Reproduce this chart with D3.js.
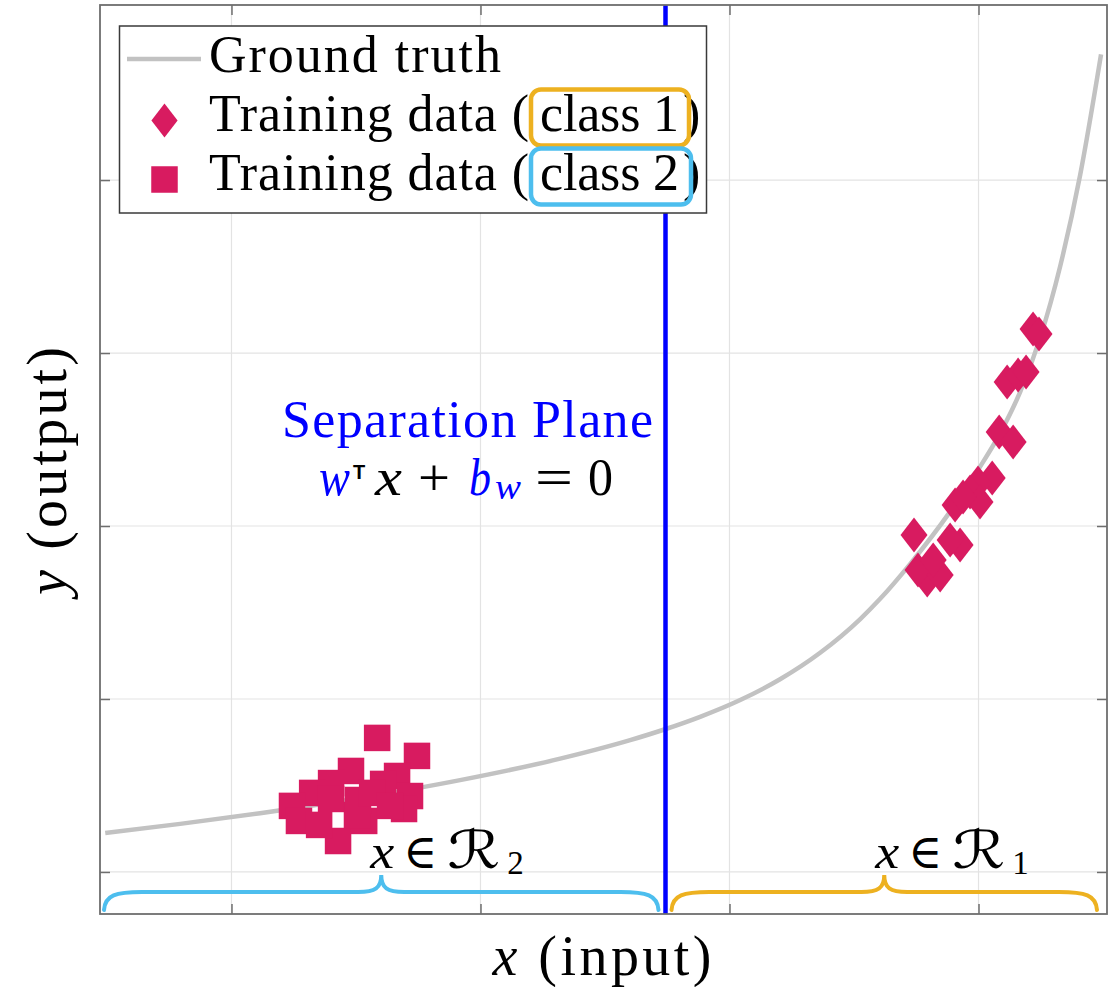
<!DOCTYPE html>
<html>
<head>
<meta charset="utf-8">
<script src="https://cdn.jsdelivr.net/npm/d3@7"></script>
<style>
  html, body { margin: 0; padding: 0; background: #ffffff; }
  svg { display: block; }
  .serif { font-family: "Liberation Serif", "DejaVu Serif", serif; }
</style>
</head>
<body>
<svg id="chart" width="1119" height="987"></svg>
<script>
// ---- data ----------------------------------------------------------------
const xTicks = [1, 2, 3, 4];
const yTicks = [0, 1, 2, 3, 4];
const xDomain = [0.472, 4.516];
const yDomain = [-0.243, 5.012];

// ground-truth curve, sampled
const truthX = [0.493, 0.794, 1.115, 1.517, 1.918, 2.320, 2.601, 2.741, 2.882, 3.043,
                3.203, 3.364, 3.525, 3.605, 3.725, 3.886, 4.006, 4.087, 4.167, 4.247,
                4.328, 4.408, 4.492];
const truthY = [0.225, 0.278, 0.340, 0.428, 0.531, 0.655, 0.762, 0.825, 0.897, 0.994,
                1.114, 1.267, 1.462, 1.579, 1.780, 2.083, 2.342, 2.537, 2.774, 3.086,
                3.502, 4.028, 4.726];

// training data, class 1 (diamonds)
const class1X = [4.219, 4.243, 4.115, 4.159, 4.191, 4.083, 4.139, 3.741, 4.055, 3.998,
                 3.966, 4.006, 3.906, 3.938, 3.926, 3.886, 3.794, 3.757, 3.846, 3.818];
const class1Y = [3.139, 3.110, 2.832, 2.873, 2.890, 2.543, 2.486, 1.948, 2.277, 2.249,
                 2.197, 2.139, 2.121, 2.168, 1.890, 1.919, 1.688, 1.746, 1.717, 1.803];

// training data, class 2 (squares)
const class2X = [1.585, 1.745, 1.480, 1.400, 1.665, 1.609, 1.324, 1.243, 1.271, 1.717,
                 1.693, 1.428, 1.352, 1.533, 1.400, 1.504, 1.508, 1.565, 1.637];
const class2Y = [0.775, 0.671, 0.584, 0.514, 0.555, 0.509, 0.457, 0.382, 0.295, 0.439,
                 0.364, 0.179, 0.272, 0.295, 0.422, 0.329, 0.416, 0.457, 0.382];

// decision boundary position on the input axis
const separatorX = 2.743;

const legendLabels = ["Ground truth", "Training data (", "class 1", "class 2"];

// ---- styling -------------------------------------------------------------
const C = {
  truth: "#c2c2c2",
  marker: "#d81b60",
  sep: "#0000ff",
  orange: "#edb120",
  cyan: "#4dbeee",
  grid: "#e3e3e3",
  frame: "#6e6e6e",
  text: "#000000"
};

const svg = d3.select("#chart");
const plot = { left: 100, top: 5, right: 1107, bottom: 914 };

const x = d3.scaleLinear().domain(xDomain).range([plot.left, plot.right]);
const y = d3.scaleLinear().domain(yDomain).range([plot.bottom, plot.top]);

// grid
const grid = svg.append("g").attr("class", "grid");
grid.selectAll("line.gx").data(xTicks).join("line")
  .attr("x1", d => x(d)).attr("x2", d => x(d))
  .attr("y1", plot.top).attr("y2", plot.bottom)
  .attr("stroke", C.grid).attr("stroke-width", 1.2);
grid.selectAll("line.gy").data(yTicks).join("line")
  .attr("y1", d => y(d)).attr("y2", d => y(d))
  .attr("x1", plot.left).attr("x2", plot.right)
  .attr("stroke", C.grid).attr("stroke-width", 1.2);

// ground truth
const truth = truthX.map((v, i) => [v, truthY[i]]);
svg.append("path")
  .datum(truth)
  .attr("fill", "none")
  .attr("stroke", C.truth)
  .attr("stroke-width", 4.5)
  .attr("d", d3.line().x(d => x(d[0])).y(d => y(d[1])).curve(d3.curveMonotoneX));

// class 2 squares
const sq = 26.5;
svg.append("g").selectAll("rect")
  .data(class2X.map((v, i) => [v, class2Y[i]]))
  .join("rect")
  .attr("x", d => x(d[0]) - sq / 2)
  .attr("y", d => y(d[1]) - sq / 2)
  .attr("width", sq).attr("height", sq)
  .attr("fill", C.marker);

// class 1 diamonds
const dw = 13.5, dh = 17.5;
const diamond = `M0,${-dh}L${dw},0L0,${dh}L${-dw},0Z`;
svg.append("g").selectAll("path")
  .data(class1X.map((v, i) => [v, class1Y[i]]))
  .join("path")
  .attr("d", diamond)
  .attr("transform", d => `translate(${x(d[0])},${y(d[1])})`)
  .attr("fill", C.marker);

// separation plane
svg.append("line")
  .attr("x1", x(separatorX)).attr("x2", x(separatorX))
  .attr("y1", plot.top).attr("y2", plot.bottom)
  .attr("stroke", C.sep).attr("stroke-width", 4.5);

// axis ticks (inward, on all four sides)
const tick = 10;
const axes = [
  { ax: d3.axisBottom(x).tickValues(xTicks), tr: `translate(0,${plot.bottom})` },
  { ax: d3.axisTop(x).tickValues(xTicks), tr: `translate(0,${plot.top})` },
  { ax: d3.axisLeft(y).tickValues(yTicks), tr: `translate(${plot.left},0)` },
  { ax: d3.axisRight(y).tickValues(yTicks), tr: `translate(${plot.right},0)` }
];
axes.forEach(a => {
  const g = svg.append("g").attr("transform", a.tr)
    .call(a.ax.tickSize(-tick).tickSizeOuter(0).tickFormat(""));
  g.select(".domain").remove();
  g.selectAll(".tick line").attr("stroke", C.frame).attr("stroke-width", 1.5);
});

// frame
svg.append("rect")
  .attr("x", plot.left).attr("y", plot.top)
  .attr("width", plot.right - plot.left).attr("height", plot.bottom - plot.top)
  .attr("fill", "none").attr("stroke", C.frame).attr("stroke-width", 1.8);

// region braces along the bottom
function brace(x0, x1, color) {
  const yEnd = plot.bottom - 4, yFlat = plot.bottom - 22, yTip = plot.bottom - 39;
  const xm = (x0 + x1) / 2, r = 38, t = 23;
  const p = d3.path();
  p.moveTo(x0, yEnd);
  p.bezierCurveTo(x0 + 1, yFlat + 3, x0 + 12, yFlat, x0 + r, yFlat);
  p.lineTo(xm - t, yFlat);
  p.bezierCurveTo(xm - 6, yFlat, xm, yFlat - 4, xm, yTip);
  p.bezierCurveTo(xm, yFlat - 4, xm + 6, yFlat, xm + t, yFlat);
  p.lineTo(x1 - r, yFlat);
  p.bezierCurveTo(x1 - 12, yFlat, x1 - 1, yFlat + 3, x1, yEnd);
  svg.append("path").attr("d", p.toString())
    .attr("fill", "none").attr("stroke", color)
    .attr("stroke-width", 4).attr("stroke-linecap", "round");
  return xm;
}
const tip2 = brace(x(xDomain[0]) + 4, x(separatorX) - 7, C.cyan);
const tip1 = brace(x(separatorX) + 6, x(xDomain[1]) - 10, C.orange);

// place text pieces at offsets from a common origin
function pieces(g, x0, base, parts) {
  parts.forEach(p => {
    const t = g.append("text").attr("x", x0 + p.at).attr("y", base + (p.dy || 0))
      .attr("font-size", p.size).attr("fill", p.fill || C.text).text(p.t);
    if (p.italic) t.attr("font-style", "italic");
    if (p.weight) t.attr("font-weight", p.weight);
    if (p.family) t.style("font-family", p.family);
    if (p.len) t.attr("textLength", p.len).attr("lengthAdjust", "spacingAndGlyphs");
  });
}

// region labels  x ∈ R_k
function regionLabel(x0, sub) {
  const g = svg.append("g").attr("class", "serif");
  pieces(g, x0, plot.bottom - 46, [
    { t: "x", size: 48, italic: true, at: 0, len: 24 },
    { t: "∈", size: 48, at: 33, len: 34 },
    { t: "ℛ", size: 52, at: 77, family: "'DejaVu Serif', 'DejaVu Sans', serif", len: 53 },
    { t: sub, size: 33, at: 137, dy: 6 }
  ]);
}
regionLabel(tip2 - 11, "2");
regionLabel(tip1 - 9, "1");

// separation plane annotation
const ann = svg.append("g").attr("class", "serif");
ann.append("text").attr("x", 282).attr("y", 437)
  .attr("font-size", 52).attr("fill", C.sep)
  .attr("textLength", 371).attr("lengthAdjust", "spacing")
  .text("Separation Plane");
pieces(ann, 319, 495, [
  { t: "w", size: 52, italic: true, fill: C.sep, at: 0, len: 31 },
  { t: "T", size: 20, at: 34, dy: -16, weight: "bold", family: "'Liberation Sans', 'DejaVu Sans', sans-serif" },
  { t: "x", size: 52, italic: true, at: 56, len: 27 },
  { t: "+", size: 52, at: 99, len: 32 },
  { t: "b", size: 52, italic: true, fill: C.sep, at: 150, len: 22 },
  { t: "w", size: 35, italic: true, fill: C.sep, at: 176, dy: 4, len: 26 },
  { t: "=", size: 52, at: 216, len: 38 },
  { t: "0", size: 52, at: 269, len: 25 }
]);

// axis labels
svg.append("text").attr("class", "serif")
  .attr("x", 602).attr("y", 975).attr("text-anchor", "middle")
  .attr("font-size", 56).attr("fill", C.text)
  .attr("textLength", 219).attr("lengthAdjust", "spacing")
  .call(t => {
    t.append("tspan").attr("font-style", "italic").text("x");
    t.append("tspan").text(" (input)");
  });
svg.append("text").attr("class", "serif")
  .attr("transform", "translate(66,471) rotate(-90)")
  .attr("text-anchor", "middle")
  .attr("font-size", 56).attr("fill", C.text)
  .attr("textLength", 248).attr("lengthAdjust", "spacing")
  .call(t => {
    t.append("tspan").attr("font-style", "italic").text("y");
    t.append("tspan").text(" (output)");
  });

// legend
const lg = svg.append("g").attr("class", "serif");
lg.append("rect").attr("x", 119.5).attr("y", 26).attr("width", 587).attr("height", 187)
  .attr("fill", "#ffffff").attr("stroke", "#3a3a3a").attr("stroke-width", 1.5);
lg.append("line").attr("x1", 127).attr("x2", 201).attr("y1", 59).attr("y2", 59)
  .attr("stroke", C.truth).attr("stroke-width", 4.5);
lg.append("path").attr("d", diamond).attr("transform", "translate(164.5,120.5) scale(0.97)")
  .attr("fill", C.marker);
lg.append("rect").attr("x", 164.5 - sq / 2).attr("y", 179.5 - sq / 2)
  .attr("width", sq).attr("height", sq).attr("fill", C.marker);

const fs = 52;
lg.append("text").attr("x", 209).attr("y", 72).attr("font-size", fs)
  .attr("textLength", 292).attr("lengthAdjust", "spacing").text(legendLabels[0]);
[[131, legendLabels[2], C.orange, 158], [190, legendLabels[3], C.cyan, 160]].forEach(([b, lab, col, bw]) => {
  lg.append("text").attr("x", 209).attr("y", b).attr("font-size", fs)
    .attr("textLength", 320).attr("lengthAdjust", "spacing").text(legendLabels[1]);
  lg.append("text").attr("x", 540).attr("y", b).attr("font-size", fs)
    .attr("textLength", 139).attr("lengthAdjust", "spacing").text(lab);
  lg.append("text").attr("x", 683).attr("y", b).attr("font-size", fs).text(")");
  lg.append("rect").attr("x", 531).attr("y", b - 41.5).attr("width", bw).attr("height", 56)
    .attr("rx", 10).attr("ry", 10)
    .attr("fill", "none").attr("stroke", col).attr("stroke-width", 4.5);
});
</script>
</body>
</html>
